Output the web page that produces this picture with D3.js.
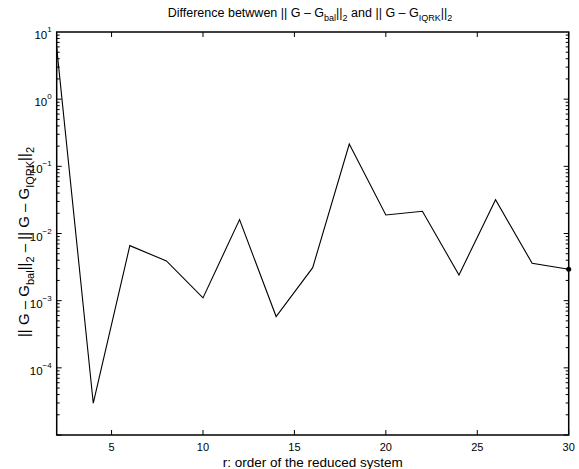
<!DOCTYPE html>
<html lang="en">
<head>
<meta charset="UTF-8">
<title>Difference between norms</title>
<script src="https://cdnjs.cloudflare.com/ajax/libs/d3/7.8.5/d3.min.js"></script>
<style>
    body {
        margin: 0;
        background: #fff;
    }
    svg text {
        font-family: 'Liberation Sans', Arial, sans-serif;
        fill: #000;
    }
</style>
</head>
<body>
<div id="chart"></div>
<script>
// reduced order r
const orders = [2, 4, 6, 8, 10, 12, 14, 16, 18, 20, 22, 24, 26, 28, 30];
// ||G - Gbal||2 - ||G - GIQRK||2
const diffs = [5.8, 2.97e-5, 6.6e-3, 3.9e-3, 1.1e-3, 1.61e-2, 5.8e-4, 3.1e-3,
               0.215, 1.89e-2, 2.14e-2, 2.41e-3, 3.19e-2, 3.6e-3, 2.93e-3];
const xTicks = [5, 10, 15, 20, 25, 30];
const yExponents = [1, 0, -1, -2, -3, -4];

const width = 579, height = 469;
const margin = {left: 56.7, right: 10.3, top: 32, bottom: 34};

const svg = d3.select("#chart")
    .append("svg")
    .attr("width", width)
    .attr("height", height);

const x = d3.scaleLinear()
    .domain([2, 30])
    .range([margin.left, width - margin.right]);

const y = d3.scaleLog()
    .domain([1e-5, 10])
    .range([height - margin.bottom, margin.top]);

const x0 = x.range()[0], x1 = x.range()[1];
const yTop = y.range()[1], yBot = y.range()[0];

// tick marks (inside, mirrored on the opposite side)
const ticks = svg.append("g").attr("stroke", "#000").attr("stroke-width", 1);

xTicks.forEach(t => {
    ticks.append("line").attr("x1", x(t)).attr("x2", x(t)).attr("y1", yBot).attr("y2", yBot - 5);
    ticks.append("line").attr("x1", x(t)).attr("x2", x(t)).attr("y1", yTop).attr("y2", yTop + 5);
});

for (let e = -5; e <= 0; e++) {
    for (let m = 1; m <= 9; m++) {
        const v = m * Math.pow(10, e);
        const len = m === 1 ? 5 : 3;
        ticks.append("line").attr("x1", x0).attr("x2", x0 + len).attr("y1", y(v)).attr("y2", y(v));
        ticks.append("line").attr("x1", x1).attr("x2", x1 - len).attr("y1", y(v)).attr("y2", y(v));
    }
}

// box
svg.append("rect")
    .attr("x", x0)
    .attr("y", yTop)
    .attr("width", x1 - x0)
    .attr("height", yBot - yTop)
    .attr("fill", "none")
    .attr("stroke", "#000")
    .attr("stroke-width", 1.5);

// x tick labels
svg.append("g").selectAll("text")
    .data(xTicks)
    .enter()
    .append("text")
    .attr("x", d => x(d))
    .attr("y", yBot + 16)
    .attr("text-anchor", "middle")
    .attr("font-size", 11)
    .text(d => d);

// y tick labels 10^e
yExponents.forEach(e => {
    const t = svg.append("text")
        .attr("x", x0 - 5)
        .attr("y", y(Math.pow(10, e)) + 7)
        .attr("text-anchor", "end")
        .attr("font-size", 11.5);
    t.append("tspan").text("10");
    t.append("tspan").attr("dy", -7).attr("font-size", 8).text(e < 0 ? "\u2212" + (-e) : e);
});

// data line
const line = d3.line()
    .x((d, i) => x(orders[i]))
    .y(d => y(d));

svg.append("path")
    .datum(diffs)
    .attr("d", line)
    .attr("fill", "none")
    .attr("stroke", "#000")
    .attr("stroke-width", 1.1);

svg.append("circle")
    .attr("cx", x(orders[orders.length - 1]))
    .attr("cy", y(diffs[diffs.length - 1]))
    .attr("r", 2.5)
    .attr("fill", "#000");

// title
const title = svg.append("text")
    .attr("x", 310)
    .attr("y", 17)
    .attr("text-anchor", "middle")
    .attr("font-size", 12.5);
title.append("tspan").text("Difference betwwen || G \u2013 G");
title.append("tspan").attr("dy", 4).attr("font-size", 9).text("bal");
title.append("tspan").attr("dy", -4).text("||");
title.append("tspan").attr("dy", 4).attr("font-size", 9).text("2");
title.append("tspan").attr("dy", -4).text(" and || G \u2013 G");
title.append("tspan").attr("dy", 4).attr("font-size", 9).text("IQRK");
title.append("tspan").attr("dy", -4).text("||");
title.append("tspan").attr("dy", 4).attr("font-size", 9).text("2");

// x label
svg.append("text")
    .attr("x", (x0 + x1) / 2)
    .attr("y", 467)
    .attr("text-anchor", "middle")
    .attr("font-size", 13.5)
    .text("r: order of the reduced system");

// y label
const ylab = svg.append("text")
    .attr("transform", `translate(29,242) rotate(-90)`)
    .attr("text-anchor", "middle")
    .attr("font-size", 15);
ylab.append("tspan").text("|| G \u2013 G");
ylab.append("tspan").attr("dy", 5).attr("font-size", 11).text("bal");
ylab.append("tspan").attr("dy", -5).text("||");
ylab.append("tspan").attr("dy", 5).attr("font-size", 11).text("2");
ylab.append("tspan").attr("dy", -5).text(" \u2013 || G \u2013 G");
ylab.append("tspan").attr("dy", 5).attr("font-size", 11).text("IQRK");
ylab.append("tspan").attr("dy", -5).text("||");
ylab.append("tspan").attr("dy", 5).attr("font-size", 11).text("2");
</script>
</body>
</html>
